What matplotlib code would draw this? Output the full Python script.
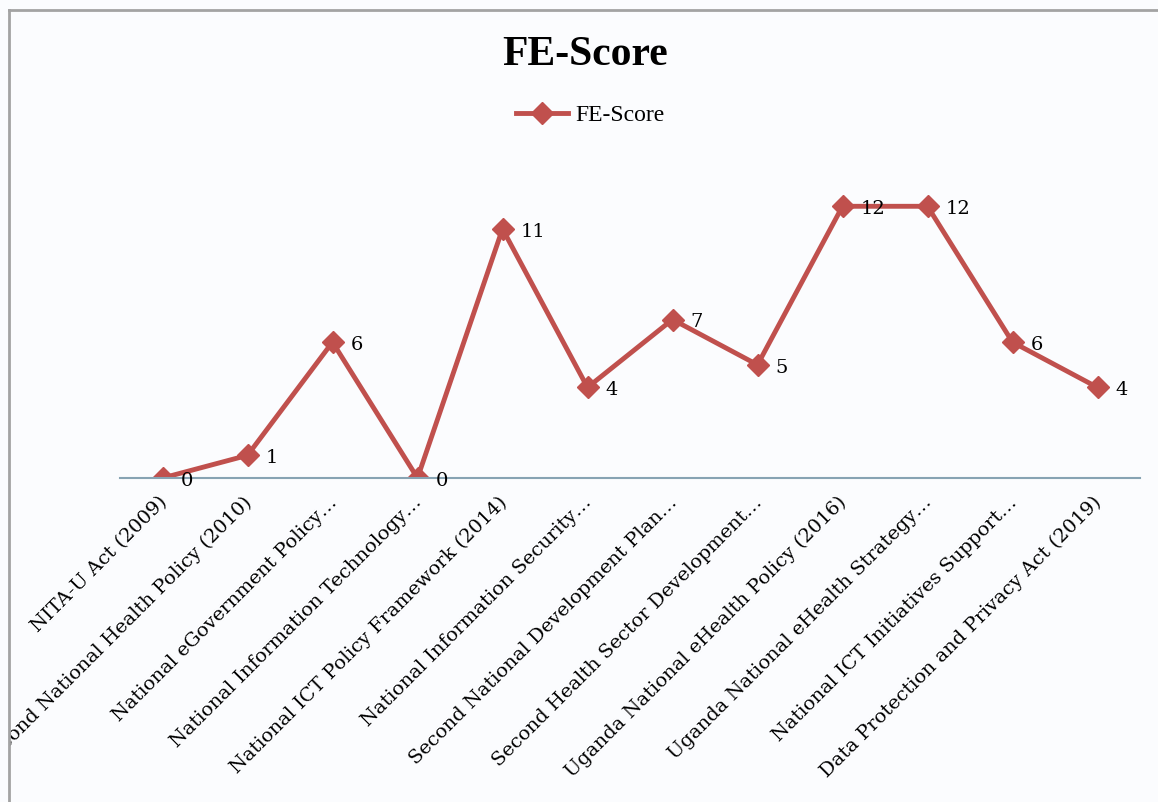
import matplotlib
matplotlib.use("Agg")
import matplotlib.pyplot as plt
from matplotlib.lines import Line2D
from matplotlib.transforms import Bbox, TransformedBbox, ScaledTranslation

# chart data
policies = [
    "NITA-U Act (2009)",
    "Second National Health Policy (2010)",
    "National eGovernment Policy\u2026",
    "National Information Technology\u2026",
    "National ICT Policy Framework (2014)",
    "National Information Security\u2026",
    "Second National Development Plan\u2026",
    "Second Health Sector Development\u2026",
    "Uganda National eHealth Policy (2016)",
    "Uganda National eHealth Strategy\u2026",
    "National ICT Initiatives Support\u2026",
    "Data Protection and Privacy Act (2019)",
]
fe_score = [0, 1, 6, 0, 11, 4, 7, 5, 12, 12, 6, 4]

red = "#c0504d"
serif = ["Liberation Serif", "DejaVu Serif"]
wide_serif = ["DejaVu Serif"]

fig = plt.figure(figsize=(11.58, 8.02), dpi=100, facecolor="#fbfcfe")
ax = fig.add_axes([120 / 1158, 1 - 478 / 802, 1020 / 1158, 317 / 802])
ax.set_facecolor("none")

x = list(range(len(policies)))
ax.plot(x, fe_score, color=red, linewidth=3.5, marker="D", markersize=11,
        label="FE-Score", solid_joinstyle="round")

# data labels to the right of the points
for xi, v in zip(x, fe_score):
    ax.annotate(str(v), (xi, v), xytext=(13, -2), textcoords="offset points",
                ha="left", va="center", fontsize=14, family=wide_serif)

ax.set_xlim(-0.5, len(policies) - 0.5)
ax.set_ylim(0, 14)
ax.set_yticks([])
ax.set_xticks(x)
ax.set_xticklabels(policies, rotation=45, ha="right", va="top",
                   fontsize=14, family=wide_serif)
ax.tick_params(axis="x", length=0, pad=11)
for s in ["top", "left", "right"]:
    ax.spines[s].set_visible(False)
ax.spines["bottom"].set_color("#87a3b3")
ax.spines["bottom"].set_linewidth(1.5)

# cut the labels at the left frame line like the original
clip = TransformedBbox(Bbox([[10 / 1158, 0], [1, 1]]), fig.transFigure)
shift = ScaledTranslation(8 / 100, 0, fig.dpi_scale_trans)
for lab in ax.get_xticklabels():
    lab.set_transform(lab.get_transform() + shift)
    lab.set_clip_on(True)
    lab.set_clip_box(clip)

fig.text(585 / 1158, 1 - 55 / 802, "FE-Score", ha="center", va="center",
         fontsize=30, fontweight="bold", family=serif)
fig.legend(loc="center", bbox_to_anchor=(590 / 1158, 1 - 115 / 802),
           frameon=False, prop={"family": serif, "size": 17},
           handlelength=2.2, handletextpad=0.3)

# frame lines at top and left
fig.add_artist(Line2D([9 / 1158, 9 / 1158], [0, 1 - 10 / 802],
                      transform=fig.transFigure, color="#a3a3a3", linewidth=2))
fig.add_artist(Line2D([9 / 1158, 1], [1 - 10 / 802, 1 - 10 / 802],
                      transform=fig.transFigure, color="#a3a3a3", linewidth=2))

fig.savefig("out.png", dpi=100, facecolor=fig.get_facecolor())
